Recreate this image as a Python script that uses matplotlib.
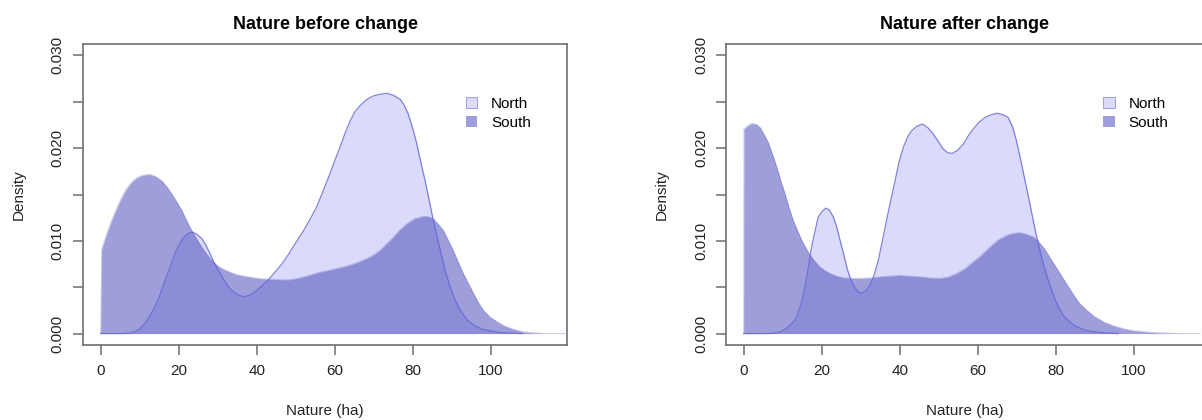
import numpy as np
import matplotlib
matplotlib.use("Agg")
import matplotlib.pyplot as plt
from matplotlib.patches import Patch

plt.rcParams['font.family'] = ['Liberation Sans', 'DejaVu Sans']

# density curves (x in ha, density)
before_north_x = [0, 5, 7.2, 8.8, 10, 11.3, 12.6, 13.9, 15.2, 16.5, 17.8, 19.0, 20.1,
                  21.2, 22.4, 23.5, 24.7, 25.9, 27, 28.0, 29, 30.1, 31.4, 32.7, 34,
                  35.3, 36.5, 38, 39.5, 41.2, 42.9, 44.6, 46.4, 48.2, 49.8, 51.9,
                  53.6, 55.3, 57, 58.7, 60, 61.3, 62.6, 63.9, 65.1, 66.4, 68, 69.8,
                  71.5, 73.3, 75, 76.7, 77.8, 78.8, 79.9, 81.0, 82, 83.1, 84.2, 85.2,
                  86.3, 87.4, 88.4, 89.5, 90.8, 92.1, 93.8, 95.5, 97.5, 99.7, 102,
                  104.9, 108]
before_north_d = [0, 0, 0.00003, 0.0002, 0.0005, 0.0011, 0.0019, 0.0029, 0.0042,
                  0.00577, 0.0072, 0.00863, 0.0096, 0.01035, 0.0108, 0.01095, 0.0107,
                  0.01024, 0.0095, 0.00863, 0.0077, 0.00684, 0.0059, 0.00505, 0.0045,
                  0.00416, 0.00397, 0.0041, 0.00451, 0.0051, 0.00577, 0.0066, 0.0075,
                  0.0086, 0.0097, 0.01105, 0.0123, 0.01364, 0.0154, 0.01722, 0.0187,
                  0.02008, 0.0216, 0.02295, 0.0239, 0.02456, 0.0252, 0.02563, 0.0258,
                  0.02592, 0.0257, 0.02528, 0.0246, 0.02367, 0.0222, 0.02044, 0.0185,
                  0.0165, 0.0143, 0.01221, 0.0102, 0.00827, 0.0066, 0.00505, 0.0036,
                  0.00254, 0.0015, 0.00093, 0.0005, 0.0003, 0.00012, 0.00005, 0]

before_south_x = [0, 0.26, 1.5, 2.8, 4.1, 5.4, 6.6, 7.9, 9.2, 10.5, 11.6, 12.6, 14.0,
                  15.6, 17.0, 18.2, 19.5, 20.8, 22.0, 23.3, 24.6, 25.9, 27.1, 28.4,
                  29.7, 31.0, 32.7, 34.4, 36.5, 38.7, 41, 43.8, 46, 48.5, 51, 53.6, 56,
                  58.7, 61.3, 63.9, 66, 68.2, 70, 71.6, 73.3, 75.0, 76.7, 78.4, 80.5,
                  82.7, 84, 85.2, 86.5, 87.8, 89, 90.3, 91.6, 92.9, 94.2, 95.5, 96.7,
                  98.0, 99.7, 101.5, 103.5, 105.7, 108, 110, 114.3, 119]
before_south_d = [0, 0.00906, 0.0107, 0.0122, 0.0135, 0.0147, 0.0156, 0.01632, 0.0168,
                  0.01704, 0.01713, 0.01715, 0.01695, 0.0165, 0.0158, 0.01507, 0.0142,
                  0.01328, 0.0122, 0.01113, 0.0102, 0.00934, 0.0086, 0.00791, 0.0074,
                  0.00702, 0.0067, 0.00641, 0.0062, 0.00605, 0.00592, 0.00584, 0.0058,
                  0.0058, 0.006, 0.0063, 0.0066, 0.00684, 0.0071, 0.00738, 0.0077,
                  0.0081, 0.0085, 0.00899, 0.0097, 0.01042, 0.0112, 0.01185, 0.0124,
                  0.01264, 0.0126, 0.01239, 0.0118, 0.01113, 0.0101, 0.00899, 0.0077,
                  0.00649, 0.0054, 0.00434, 0.0034, 0.00254, 0.0018, 0.00129, 0.0008,
                  0.00047, 0.0002, 0.0001, 0, 0]

after_north_x = [0, 5, 7.6, 9.5, 11.0, 12.4, 13.6, 14.7, 15.7, 16.6, 17.4, 18.3, 19.1,
                 20.1, 21.1, 22.0, 23.0, 23.9, 24.7, 25.6, 26.4, 27.2, 28.1, 29.1,
                 30.2, 31.3, 32.4, 33.5, 34.5, 35.5, 36.6, 37.7, 38.8, 39.8, 40.9, 42,
                 43.0, 44.5, 45.9, 47.2, 48.6, 49.9, 51.1, 52.3, 53.5, 54.9, 56.3,
                 57.5, 58.8, 60.3, 61.8, 63.4, 65.0, 66.5, 67.8, 68.9, 69.9, 71, 72.1,
                 73.2, 74.2, 75.1, 76.0, 77, 78.0, 79, 80.0, 81, 82.0, 83.5, 85.0,
                 88.0, 92.0, 96.0]
after_north_d = [0, 0, 0.00003, 0.0002, 0.0006, 0.0011, 0.0018, 0.0032, 0.00505,
                 0.0072, 0.00934, 0.0111, 0.01256, 0.0132, 0.01353, 0.0133, 0.01256,
                 0.0114, 0.01006, 0.0086, 0.00719, 0.0061, 0.00523, 0.0046, 0.00434,
                 0.0046, 0.00523, 0.0064, 0.00791, 0.0099, 0.01221, 0.0144, 0.0165,
                 0.0185, 0.02008, 0.0212, 0.02187, 0.0224, 0.02259, 0.0222, 0.02152,
                 0.0207, 0.01991, 0.0195, 0.01944, 0.0198, 0.02044, 0.0213, 0.02206,
                 0.0228, 0.0233, 0.0236, 0.02377, 0.0236, 0.0233, 0.0223, 0.0208,
                 0.0187, 0.0165, 0.0143, 0.01221, 0.0104, 0.0088, 0.0072, 0.0058,
                 0.0046, 0.0035, 0.0026, 0.0019, 0.0013, 0.0008, 0.0003, 0.0001, 0]

after_south_x = [0, 0.08, 1.0, 2.0, 3.1, 4.2, 5.2, 6.3, 7.4, 8.5, 9.5, 10.6, 11.6, 12.7,
                 13.8, 14.9, 16, 17.0, 18.2, 19.5, 20.8, 22.1, 23.8, 25.5, 27.6, 29.8,
                 32.4, 34.9, 37.5, 40.0, 42.6, 45.2, 47.8, 50.3, 52.5, 54.6, 56.7,
                 58.8, 61, 63.1, 65.2, 67.4, 69, 70.8, 72.5, 74.2, 75.6, 77.0, 78.5,
                 80.0, 81.5, 83.0, 84.5, 86.0, 88.0, 90.0, 92.5, 95, 97.5, 100, 105,
                 112, 117]
after_south_d = [0, 0.02206, 0.0224, 0.02266, 0.0226, 0.02223, 0.0215, 0.02062, 0.0193,
                 0.01793, 0.0165, 0.01508, 0.0136, 0.01221, 0.0111, 0.01006, 0.0092,
                 0.00845, 0.0078, 0.00719, 0.0068, 0.00649, 0.0062, 0.00601, 0.00595,
                 0.00595, 0.006, 0.00612, 0.0062, 0.00627, 0.0062, 0.00612, 0.006,
                 0.00595, 0.0061, 0.00649, 0.007, 0.00773, 0.0085, 0.00934, 0.0101,
                 0.0106, 0.0108, 0.01089, 0.0107, 0.01042, 0.0099, 0.0092, 0.0082,
                 0.0072, 0.0062, 0.0052, 0.0042, 0.0033, 0.0025, 0.0018, 0.0012,
                 0.0008, 0.0005, 0.0003, 0.0001, 0, 0]

titles = ["Nature before change", "Nature after change"]
groups = ["North", "South"]
yticks = [0, 0.005, 0.01, 0.015, 0.02, 0.025, 0.03]
ylabels = ["0.000", "", "0.010", "", "0.020", "", "0.030"]
xticks = [0, 20, 40, 60, 80, 100]

north_face = (218/255, 218/255, 250/255)
north_edge = (100/255, 100/255, 215/255)
south_face = (66/255, 66/255, 183/255)
south_alpha = 0.51
frame_col = '#6e6e6e'

fig = plt.figure(figsize=(12.02, 4.2), dpi=100)
ax1 = fig.add_axes([0.0688, 0.1793, 0.4032, 0.7152])
ax2 = fig.add_axes([0.604, 0.1793, 0.3968, 0.7152])

panels = [
    (ax1, before_north_x, before_north_d, before_south_x, before_south_d, (-4.61, 119.55)),
    (ax2, after_north_x, after_north_d, after_south_x, after_south_d, (-4.53, 117.7)),
]

for i, (ax, nx, nd, sx, sd, xlim) in enumerate(panels):
    # North first, South semi transparent on top
    ax.fill_between(nx, nd, color=north_face, lw=0)
    ax.plot(nx, nd, color=north_edge, lw=0.9, alpha=0.8, solid_joinstyle='round')
    ax.fill_between(sx, sd, color=south_face, alpha=south_alpha, lw=0)
    ax.plot(sx, sd, color=south_face, lw=0.8, alpha=0.25, solid_joinstyle='round')

    ax.set_xlim(*xlim)
    ax.set_ylim(-0.0012, 0.0312)
    ax.set_xticks(xticks)
    ax.set_yticks(yticks)
    ax.set_yticklabels(ylabels, rotation=90, va='center')
    ax.tick_params(direction='out', length=7, width=1.1, color=frame_col,
                   labelsize=11, labelcolor='#222222')
    ax.tick_params(axis='x', pad=7)
    ax.tick_params(axis='y', pad=6)
    for sp in ax.spines.values():
        sp.set_color(frame_col)
        sp.set_linewidth(1.2)

    ax.set_title(titles[i], fontsize=13, fontweight='bold', pad=11)
    ax.set_xlabel("Nature (ha)", fontsize=11, color='#222222')
    ax.xaxis.set_label_coords(0.5, -0.222)
    ax.xaxis.label.set_va('center')
    ax.set_ylabel("Density", fontsize=11, color='#222222')
    ax.yaxis.label.set_va('center')

    handles = [Patch(facecolor=north_face, edgecolor=north_edge, lw=0.4),
               Patch(facecolor=south_face, alpha=south_alpha, edgecolor='none')]
    ax.legend(handles, groups, loc='upper left', bbox_to_anchor=(0.775, 0.85),
              frameon=False, fontsize=11, handlelength=0.75, handleheight=0.75,
              handletextpad=0.9, labelspacing=0.3, borderpad=0)

ax1.yaxis.set_label_coords(-0.131, 0.5)
ax2.yaxis.set_label_coords(-0.135, 0.5)

fig.savefig("out.png", dpi=100)
